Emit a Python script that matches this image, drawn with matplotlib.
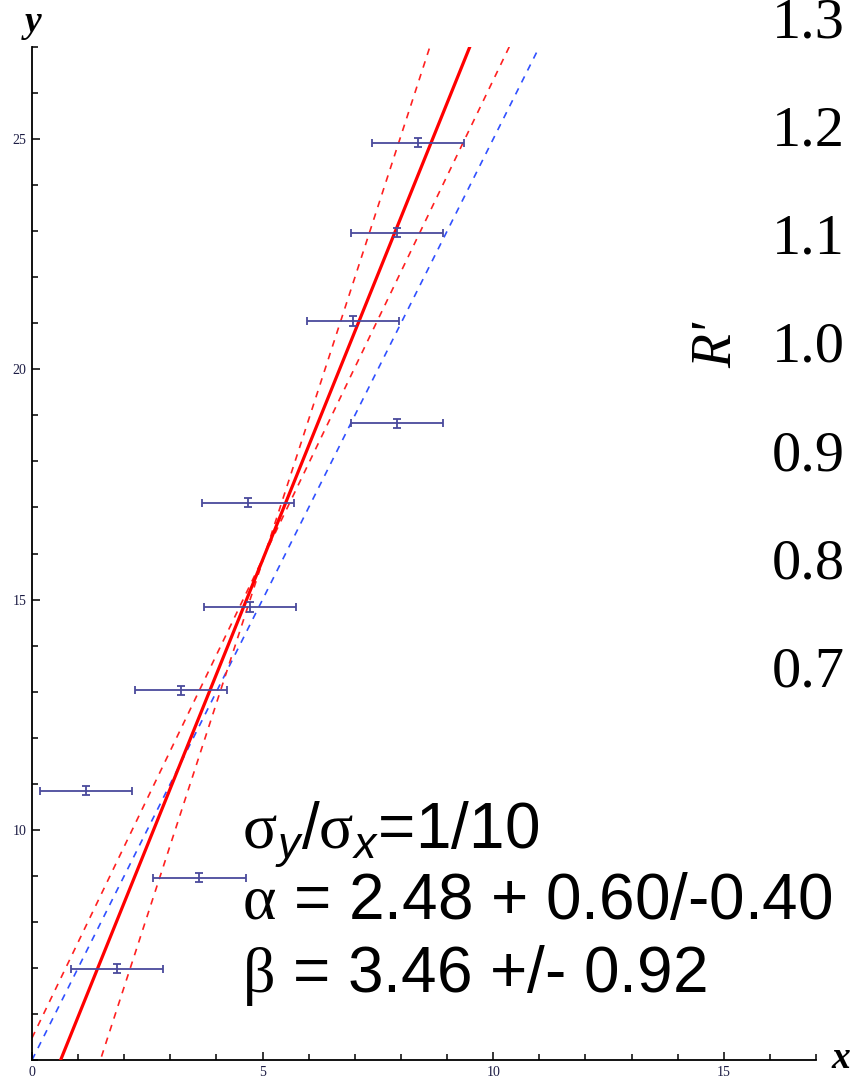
import numpy as np
import matplotlib.pyplot as plt
from matplotlib.ticker import MultipleLocator, FixedLocator

# measured points (x has the large error, y the small one)
x_vals = [8.37, 7.91, 6.96, 7.92, 4.69, 4.73, 3.23, 1.17, 3.63, 1.85]
y_vals = [24.92, 22.97, 21.05, 18.83, 17.10, 14.84, 13.03, 10.85, 8.96, 6.98]
sigma_x = 1.0
sigma_y = 0.1

# fit result y = alpha*x + beta, slope errors +0.60/-0.40
alpha = 2.48
alpha_up = 0.60
alpha_dn = 0.40
beta = 3.46
beta_err = 0.92

# generating line
true_slope = 2.0
true_icpt = 5.0

right_labels = ['1.3', '1.2', '1.1', '1.0', '0.9', '0.8', '0.7']

W, H = 850, 1081
plt.rcParams['mathtext.fontset'] = 'custom'
plt.rcParams['mathtext.rm'] = 'Liberation Serif'
plt.rcParams['mathtext.it'] = 'Liberation Sans:italic'

fig = plt.figure(figsize=(W / 100, H / 100), dpi=100)
ax = fig.add_axes([32 / W, 21 / H, (816 - 32) / W, (1060 - 47) / H])
ax.set_xlim(0, 17)
ax.set_ylim(5, 27)

xs = np.linspace(0, 17, 200)
xbar = np.mean(x_vals)
ybar = alpha * xbar + beta

ax.plot(xs, true_slope * xs + true_icpt, color='#3050ff', lw=1.2,
        ls=(0, (4, 4)), zorder=2)
ax.plot(xs, (alpha + alpha_up) * (xs - xbar) + ybar, color='#ff2020', lw=1.2,
        ls=(0, (4, 4)), zorder=2)
ax.plot(xs, (alpha - alpha_dn) * (xs - xbar) + ybar, color='#ff2020', lw=1.2,
        ls=(0, (4, 4)), zorder=2)
ax.plot(xs, alpha * xs + beta, color='#ff0000', lw=2.3, zorder=3)

ax.errorbar(x_vals, y_vals, xerr=sigma_x, yerr=sigma_y, fmt='none',
            ecolor='#4a4a9c', elinewidth=1.3, capsize=3, capthick=1.3,
            zorder=4)

for s in ['top', 'right']:
    ax.spines[s].set_visible(False)
for s in ['left', 'bottom']:
    ax.spines[s].set_linewidth(1.3)

ax.xaxis.set_major_locator(FixedLocator([0, 5, 10, 15]))
ax.xaxis.set_minor_locator(MultipleLocator(1))
ax.yaxis.set_major_locator(FixedLocator([10, 15, 20, 25]))
ax.yaxis.set_minor_locator(MultipleLocator(1))
ax.tick_params(which='both', direction='in', width=1.1, colors='black',
               labelcolor='#1c1c44', labelsize=10, pad=4)
ax.tick_params(which='major', length=6)
ax.tick_params(which='minor', length=4.5)
for lab in ax.get_xticklabels() + ax.get_yticklabels():
    lab.set_family('Liberation Serif')

# axis names at the ends of the axes
fig.text(33 / W, 1 - 22 / H, 'y', family='Liberation Serif', style='italic',
         weight='bold', fontsize=27, ha='center', va='center')
fig.text(841 / W, 1 - 1058 / H, 'x', family='Liberation Serif', style='italic',
         weight='bold', fontsize=27, ha='center', va='center')

# fit summary
txt = dict(family='Liberation Sans', fontsize=46, ha='left',
           va='baseline', color='black')
fig.text(242 / W, 1 - 849 / H, r'$\mathrm{\sigma}_{y}$/$\mathrm{\sigma}_{x}$=1/10', **txt)
fig.text(242 / W, 1 - 919 / H,
         r'$\mathrm{\alpha}$ = %.2f + %.2f/-%.2f' % (alpha, alpha_up, alpha_dn), **txt)
fig.text(242 / W, 1 - 992 / H,
         r'$\mathrm{\beta}$ = %.2f +/- %.2f' % (beta, beta_err), **txt)

# scale of the neighbouring panel
for i, lab in enumerate(right_labels):
    fig.text(845 / W, 1 - (37 + 108.3 * i) / H, lab, family='Liberation Serif',
             fontsize=42, ha='right', va='baseline')
fig.text(717 / W, 1 - 345 / H, "R'", family='Liberation Serif',
         style='italic', fontsize=40, rotation=90, ha='center', va='center')

fig.savefig('out.png', dpi=100)
